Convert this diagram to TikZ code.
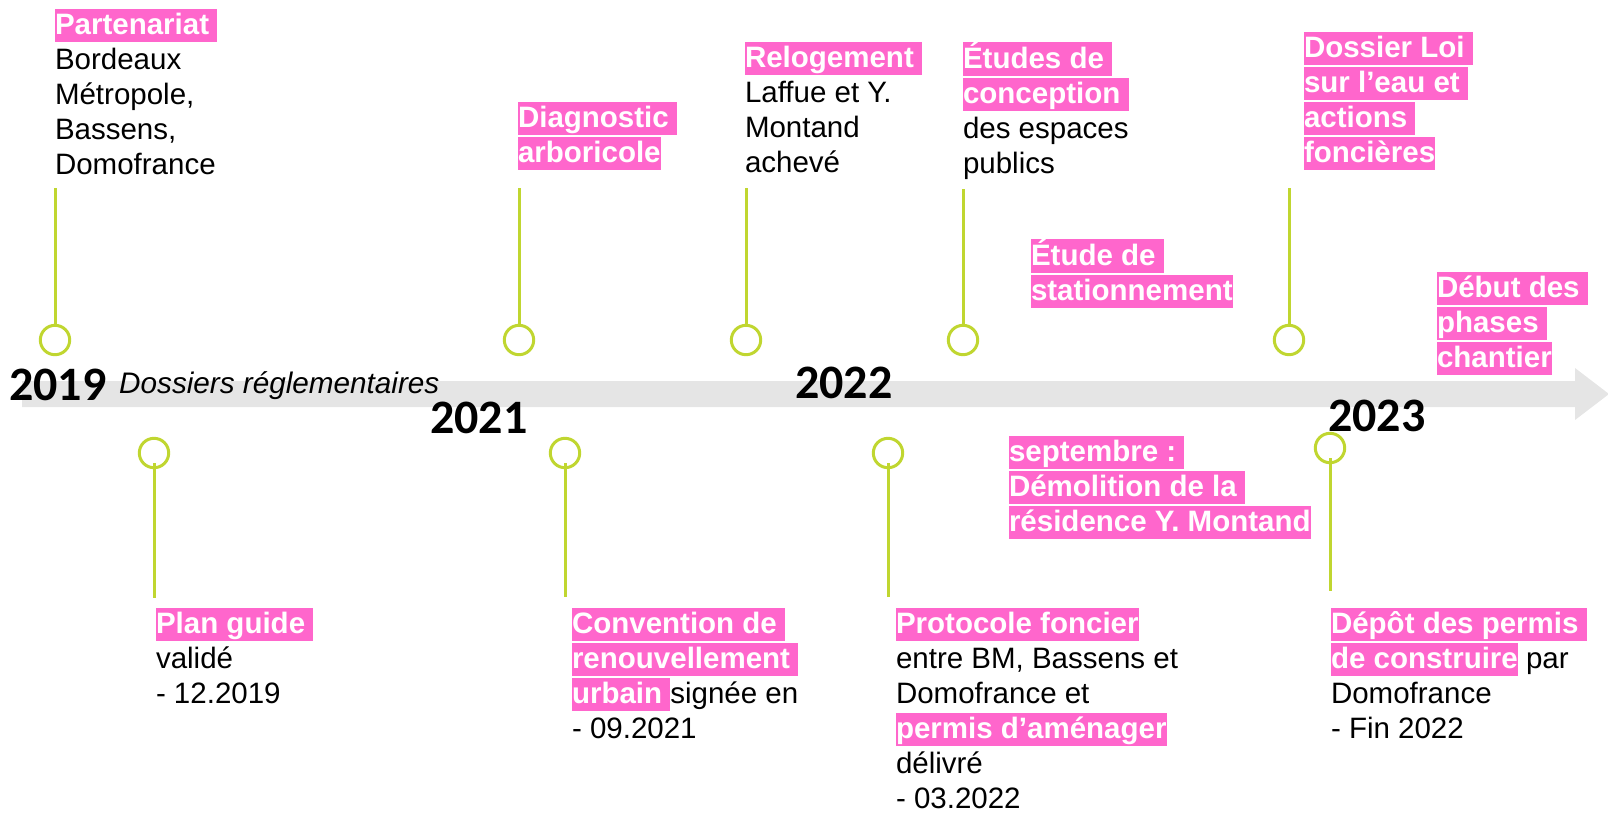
\documentclass[tikz,border=0pt]{standalone}
\usepackage{fontspec}
\setmainfont{Liberation Sans}
\newfontfamily\yearfont{Carlito}
\definecolor{hlpink}{RGB}{255,102,204}
\definecolor{tlgreen}{RGB}{192,214,48}
\definecolor{bandgrey}{RGB}{229,229,229}
\newcommand\lstrut{\rule[-8pt]{0pt}{33pt}}
\newcommand\hl[1]{{\setlength{\fboxsep}{0pt}\colorbox{hlpink}{\lstrut\color{white}\bfseries #1}}}
\begin{document}
\begin{tikzpicture}[x=1pt,y=-1pt,
  txt/.style={anchor=north west, inner sep=0pt, outer sep=0pt, align=left, font=\fontsize{29.5}{35}\selectfont},
  dot/.style={circle, draw=tlgreen, line width=3pt, minimum size=29.4pt, inner sep=0pt},
  stem/.style={draw=tlgreen, line width=3pt},
  yr/.style={anchor=base west, inner sep=0pt, font=\yearfont\fontsize{48}{50}\selectfont\bfseries}]
\useasboundingbox (0,0) rectangle (1608,815);
% timeline band
\fill[bandgrey] (22,381) -- (1575,381) -- (1575,368) -- (1609,394) -- (1575,420) -- (1575,407) -- (22,407) -- cycle;
% years
\node[yr] (y2019) at (9,400) {2019};
\node[yr] (y2021) at (430,433) {2021};
\node[yr] (y2022) at (795,398) {2022};
\node[yr] (y2023) at (1328,431) {2023};
\node[anchor=base west, inner sep=0pt, font=\fontsize{29.7}{35}\selectfont\itshape] (dossiers) at (119,393) {Dossiers réglementaires};
% top events
\node[dot] (c1) at (55,340) {};
\coordinate (s1) at (55,188);
\draw[stem] (s1) -- (c1.north);
\node[txt] (t1) at (55,9) {\hl{Partenariat\ }\\\lstrut Bordeaux\\\lstrut Métropole,\\\lstrut Bassens,\\\lstrut Domofrance};

\node[dot] (c2) at (519,340) {};
\coordinate (s2) at (519,188);
\draw[stem] (s2) -- (c2.north);
\node[txt] (t2) at (518,102) {\hl{Diagnostic\ }\\\hl{arboricole}};

\node[dot] (c3) at (746,340) {};
\coordinate (s3) at (746,188);
\draw[stem] (s3) -- (c3.north);
\node[txt] (t3) at (745,42) {\hl{Relogement\ }\\\lstrut Laffue et Y.\\\lstrut Montand\\\lstrut achevé};

\node[dot] (c4) at (963,340) {};
\coordinate (s4) at (963,189);
\draw[stem] (s4) -- (c4.north);
\node[txt] (t4) at (963,42) {\hl{Études de\ }\\\hl{conception\ }\\\lstrut des espaces\\\lstrut publics};

\node[txt] (t5) at (1031,239) {\hl{Étude de\ }\\\hl{stationnement}};

\node[dot] (c6) at (1289,340) {};
\coordinate (s6) at (1289,188);
\draw[stem] (s6) -- (c6.north);
\node[txt] (t6) at (1304,32) {\hl{Dossier Loi\ }\\\hl{sur l’eau et\ }\\\hl{actions\ }\\\hl{foncières}};

\node[txt] (t7) at (1437,272) {\hl{Début des\ }\\\hl{phases\ }\\\hl{chantier}};

% bottom events
\node[dot] (c8) at (154,453) {};
\coordinate (e8) at (154,598);
\draw[stem] ([yshift=-10pt]c8.center) -- (e8);
\node[txt] (t8) at (156,608) {\hl{Plan guide\ }\\\lstrut validé\\\lstrut - 12.2019};

\node[dot] (c9) at (565,453) {};
\coordinate (e9) at (565,597);
\draw[stem] ([yshift=-10pt]c9.center) -- (e9);
\node[txt] (t9) at (572,608) {\hl{Convention de\ }\\\hl{renouvellement\ }\\\hl{urbain\ }signée en\\\lstrut - 09.2021};

\node[dot] (c10) at (888,453) {};
\coordinate (e10) at (888,597);
\draw[stem] ([yshift=-10pt]c10.center) -- (e10);
\node[txt] (t10) at (896,608) {\hl{Protocole foncier}\\\lstrut entre BM, Bassens et\\\lstrut Domofrance et\\\hl{permis d’aménager}\\\lstrut délivré\\\lstrut - 03.2022};

\node[txt] (t11) at (1009,436) {\hl{septembre :\ }\\\hl{Démolition de la\ }\\\hl{résidence Y. Montand}};

\node[dot] (c12) at (1330,448) {};
\coordinate (e12) at (1330,591);
\draw[stem] ([yshift=-10pt]c12.center) -- (e12);
\node[txt] (t12) at (1331,608) {\hl{Dépôt des permis\ }\\\hl{de construire} par\\\lstrut Domofrance\\\lstrut - Fin 2022};
\end{tikzpicture}
\end{document}
